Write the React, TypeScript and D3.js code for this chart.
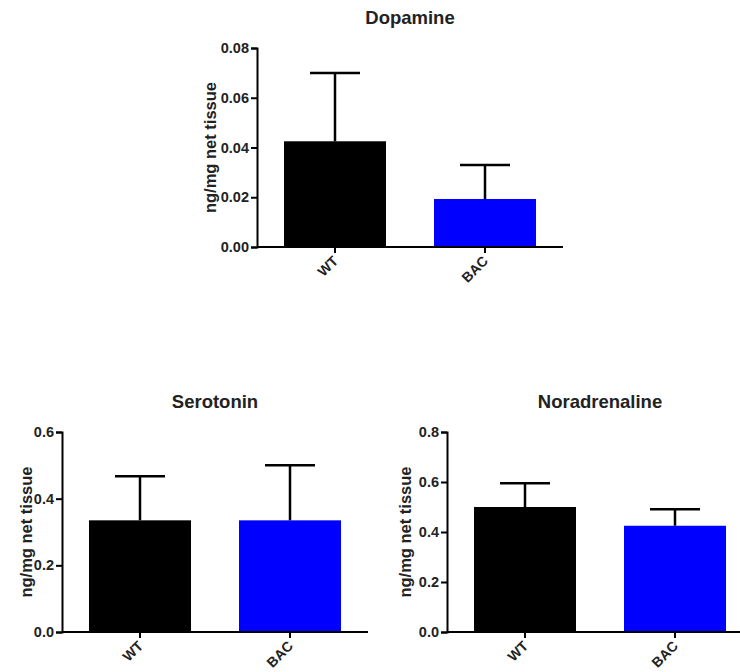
import React, { useEffect, useRef } from 'react';
import * as d3 from 'd3';

// groups shown in every panel
const groups = ['WT', 'BAC'];
const groupColors = ['#000000', '#0000ff'];

// mean and error (upper bar) per group, ng/mg net tissue
const dopamineMeans = [0.0425, 0.0193];
const dopamineErrors = [0.0275, 0.0137];
const serotoninMeans = [0.335, 0.335];
const serotoninErrors = [0.132, 0.165];
const noradrenalineMeans = [0.5, 0.425];
const noradrenalineErrors = [0.095, 0.066];

// y axis ticks per panel
const dopamineTicks = [0, 0.02, 0.04, 0.06, 0.08];
const serotoninTicks = [0, 0.2, 0.4, 0.6];
const noradrenalineTicks = [0, 0.2, 0.4, 0.6, 0.8];

const yLabel = 'ng/mg net tissue';

const App = () => {
    const ref = useRef<SVGSVGElement | null>(null);

    useEffect(() => {
        const svg = d3.select(ref.current);
        svg.selectAll('*').remove();

        const font = '"Liberation Sans", Arial, sans-serif';

        // layout of the three panels
        const panels = [
            { title: 'Dopamine', means: dopamineMeans, errors: dopamineErrors, ticks: dopamineTicks, fmt: '.2f',
              x: 257, top: 48, bottom: 247, width: 306, labelX: 210 },
            { title: 'Serotonin', means: serotoninMeans, errors: serotoninErrors, ticks: serotoninTicks, fmt: '.1f',
              x: 62, top: 432, bottom: 632, width: 306, labelX: 26 },
            { title: 'Noradrenaline', means: noradrenalineMeans, errors: noradrenalineErrors, ticks: noradrenalineTicks, fmt: '.1f',
              x: 447, top: 432, bottom: 632, width: 306, labelX: 405 },
        ];

        panels.forEach(p => {
            const g = svg.append('g');

            const y = d3.scaleLinear()
                .domain([0, p.ticks[p.ticks.length - 1]])
                .range([p.bottom, p.top]);

            const x = d3.scaleBand()
                .domain(groups)
                .range([p.x, p.x + p.width])
                .paddingInner(0.32)
                .paddingOuter(0.18);

            // bars
            g.selectAll('rect.bar')
                .data(groups)
                .join('rect')
                .attr('class', 'bar')
                .attr('x', d => x(d)!)
                .attr('width', x.bandwidth())
                .attr('y', (d, i) => y(p.means[i]))
                .attr('height', (d, i) => p.bottom - y(p.means[i]))
                .attr('fill', (d, i) => groupColors[i]);

            // error bars
            groups.forEach((d, i) => {
                const cx = x(d)! + x.bandwidth() / 2;
                const top = y(p.means[i] + p.errors[i]);
                g.append('line')
                    .attr('x1', cx).attr('x2', cx)
                    .attr('y1', y(p.means[i])).attr('y2', top)
                    .attr('stroke', '#000').attr('stroke-width', 2.5);
                g.append('line')
                    .attr('x1', cx - 25).attr('x2', cx + 25)
                    .attr('y1', top).attr('y2', top)
                    .attr('stroke', '#000').attr('stroke-width', 2.5);
            });

            // y axis
            const yAxis = g.append('g')
                .attr('transform', `translate(${p.x},0)`)
                .call(d3.axisLeft(y).tickValues(p.ticks).tickFormat(d3.format(p.fmt)).tickSize(6).tickPadding(2));
            yAxis.select('.domain').attr('stroke-width', 2);
            yAxis.selectAll('.tick line').attr('stroke-width', 2);
            yAxis.selectAll('.tick text')
                .attr('font-family', font)
                .attr('font-weight', 'bold')
                .attr('font-size', 14.5)
                .attr('fill', '#222');

            // x axis
            const xAxis = g.append('g')
                .attr('transform', `translate(0,${p.bottom})`)
                .call(d3.axisBottom(x).tickSize(6).tickSizeOuter(0).tickFormat(() => ''));
            xAxis.select('.domain').attr('stroke-width', 2).attr('d', `M${p.x},0H${p.x + p.width}`);
            xAxis.selectAll('.tick line').attr('stroke-width', 2);

            // rotated group labels
            g.selectAll('text.xl')
                .data(groups)
                .join('text')
                .attr('class', 'xl')
                .attr('transform', d => `translate(${x(d)! + x.bandwidth() / 2 - 3},${p.bottom + 8}) rotate(-45)`)
                .attr('text-anchor', 'end')
                .attr('dy', '0.7em')
                .attr('font-family', font)
                .attr('font-weight', 'bold')
                .attr('font-size', 14)
                .attr('fill', '#222')
                .text(d => d);

            // y label
            g.append('text')
                .attr('transform', `translate(${p.labelX},${(p.top + p.bottom) / 2}) rotate(-90)`)
                .attr('text-anchor', 'middle')
                .attr('dominant-baseline', 'central')
                .attr('font-family', font)
                .attr('font-weight', 'bold')
                .attr('font-size', 16.5)
                .attr('fill', '#222')
                .text(yLabel);

            // title
            g.append('text')
                .attr('x', p.x + p.width / 2)
                .attr('y', p.top - 24)
                .attr('text-anchor', 'middle')
                .attr('font-family', font)
                .attr('font-weight', 'bold')
                .attr('font-size', 18.5)
                .attr('fill', '#222')
                .text(p.title);
        });
    }, []);

    return (
        <div style={{ position: 'absolute', left: 0, top: 0 }}>
            <svg ref={ref} width={740} height={672} style={{ display: 'block', background: '#fff' }} />
        </div>
    );
};

export default App;
